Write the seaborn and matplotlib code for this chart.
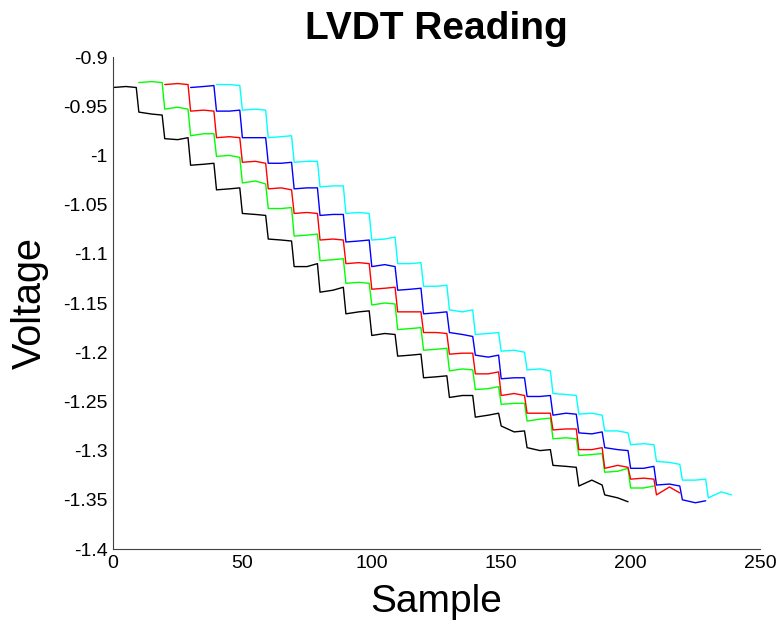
"""
LVDT reading chart: five staggered staircase traces (MATLAB look).
"""

import numpy as np
import pandas as pd
import matplotlib
matplotlib.use("Agg")
import matplotlib.pyplot as plt
import seaborn as sns
from matplotlib.ticker import FuncFormatter

# first sample of each trace
trace_names = ["black", "green", "red", "blue", "cyan"]
trace_colours = ["#000000", "#00ff00", "#ff0000", "#0000ff", "#00ffff"]
trace_starts = [0, 10, 20, 30, 40]

# sample offsets read inside each 10-sample step
step_offsets = [0, 5, 9]

# voltages, three per step (start, middle, end)
black_v = [
    -0.931, -0.930, -0.931, -0.956, -0.958, -0.959, -0.983, -0.984, -0.982,
    -1.010, -1.009, -1.008, -1.035, -1.034, -1.033, -1.059, -1.060, -1.061,
    -1.085, -1.086, -1.087, -1.113, -1.113, -1.110, -1.139, -1.137, -1.134,
    -1.161, -1.159, -1.158, -1.183, -1.181, -1.182, -1.204, -1.203, -1.202,
    -1.226, -1.225, -1.224, -1.246, -1.244, -1.244, -1.266, -1.264, -1.262,
    -1.275, -1.281, -1.280, -1.297, -1.300, -1.299, -1.315, -1.316, -1.317,
    -1.336, -1.330, -1.335, -1.345, -1.348, -1.352,
]
green_v = [
    -0.926, -0.925, -0.926, -0.953, -0.951, -0.953, -0.980, -0.978, -0.978,
    -1.001, -1.000, -1.002, -1.028, -1.026, -1.029, -1.054, -1.054, -1.053,
    -1.082, -1.081, -1.080, -1.107, -1.106, -1.105, -1.130, -1.129, -1.130,
    -1.152, -1.150, -1.151, -1.177, -1.176, -1.175, -1.198, -1.197, -1.196,
    -1.219, -1.217, -1.218, -1.238, -1.237, -1.235, -1.253, -1.252, -1.252,
    -1.270, -1.268, -1.267, -1.288, -1.287, -1.288, -1.305, -1.304, -1.303,
    -1.322, -1.321, -1.318, -1.338, -1.338, -1.336,
]
red_v = [
    -0.928, -0.927, -0.928, -0.955, -0.954, -0.955, -0.982, -0.981, -0.982,
    -1.007, -1.006, -1.008, -1.034, -1.033, -1.035, -1.059, -1.058, -1.059,
    -1.086, -1.085, -1.086, -1.110, -1.109, -1.110, -1.136, -1.135, -1.134,
    -1.159, -1.159, -1.159, -1.180, -1.180, -1.181, -1.202, -1.201, -1.201,
    -1.222, -1.222, -1.220, -1.244, -1.242, -1.244, -1.262, -1.262, -1.262,
    -1.279, -1.278, -1.278, -1.299, -1.299, -1.297, -1.318, -1.315, -1.317,
    -1.329, -1.328, -1.329, -1.345, -1.337, -1.343,
]
blue_v = [
    -0.931, -0.930, -0.929, -0.955, -0.955, -0.954, -0.982, -0.982, -0.982,
    -1.008, -1.008, -1.007, -1.034, -1.033, -1.033, -1.061, -1.060, -1.060,
    -1.088, -1.087, -1.086, -1.113, -1.111, -1.113, -1.137, -1.136, -1.135,
    -1.161, -1.160, -1.159, -1.180, -1.182, -1.184, -1.203, -1.205, -1.203,
    -1.227, -1.226, -1.226, -1.245, -1.245, -1.244, -1.264, -1.262, -1.263,
    -1.282, -1.283, -1.281, -1.297, -1.299, -1.300, -1.318, -1.318, -1.316,
    -1.335, -1.334, -1.336, -1.350, -1.353, -1.351,
]
cyan_v = [
    -0.928, -0.928, -0.929, -0.954, -0.953, -0.954, -0.982, -0.981, -0.980,
    -1.007, -1.006, -1.006, -1.032, -1.031, -1.031, -1.059, -1.058, -1.059,
    -1.086, -1.085, -1.083, -1.110, -1.110, -1.109, -1.133, -1.133, -1.132,
    -1.157, -1.159, -1.157, -1.182, -1.181, -1.180, -1.199, -1.198, -1.200,
    -1.218, -1.217, -1.219, -1.242, -1.243, -1.244, -1.263, -1.262, -1.264,
    -1.280, -1.280, -1.282, -1.294, -1.293, -1.294, -1.311, -1.312, -1.314,
    -1.330, -1.330, -1.329, -1.348, -1.342, -1.345,
]

x_ticks = [0, 50, 100, 150, 200, 250]
y_ticks = [-1.4, -1.35, -1.3, -1.25, -1.2, -1.15, -1.1, -1.05, -1.0, -0.95, -0.9]

# long-form table for seaborn
rows = []
for name, start, vals in zip(trace_names, trace_starts,
                             [black_v, green_v, red_v, blue_v, cyan_v]):
    n_steps = len(vals) // len(step_offsets)
    xs = [start + 10 * k + o for k in range(n_steps) for o in step_offsets]
    for x, v in zip(xs, vals):
        rows.append({"trace": name, "Sample": x, "Voltage": v})
df = pd.DataFrame(rows)

sns.set_style("white")
plt.rcParams["font.family"] = ["Liberation Sans", "DejaVu Sans"]
plt.rcParams["text.color"] = "black"
plt.rcParams["axes.labelcolor"] = "black"

fig = plt.figure(figsize=(7.78, 6.25), dpi=100)
ax = fig.add_axes([0.1452, 0.1216, 0.8317, 0.7872])

sns.lineplot(data=df, x="Sample", y="Voltage", hue="trace",
             hue_order=trace_names, palette=trace_colours,
             estimator=None, sort=False, legend=False, linewidth=1.0, ax=ax)

ax.set_xlim(0, 250)
ax.set_ylim(-1.4, -0.9)
ax.set_xticks(x_ticks)
ax.set_yticks(y_ticks)
ax.yaxis.set_major_formatter(FuncFormatter(lambda v, _: f"{v:g}"))
ax.tick_params(direction="in", length=5, width=0.8, labelsize=14,
               colors="#404040", labelcolor="black", pad=4)

for side in ["top", "right"]:
    ax.spines[side].set_visible(False)
for side in ["left", "bottom"]:
    ax.spines[side].set_color("#404040")
    ax.spines[side].set_linewidth(0.8)

ax.set_title("LVDT Reading", fontsize=28, fontweight="bold", pad=13)
ax.set_xlabel("Sample", fontsize=28, labelpad=9)
ax.set_ylabel("Voltage", fontsize=28.5, labelpad=10)

fig.savefig("out.png", dpi=100)
plt.close(fig)
